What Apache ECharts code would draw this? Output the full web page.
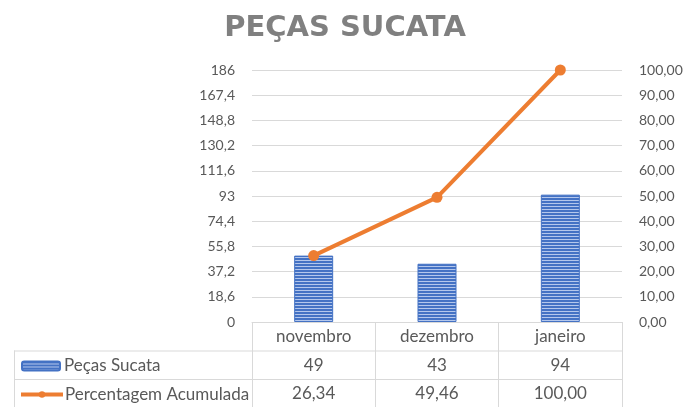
<!DOCTYPE html>
<html>
<head>
<meta charset="utf-8">
<script src="https://cdn.jsdelivr.net/npm/echarts@6/dist/echarts.min.js"></script>
<style>html,body{margin:0;padding:0;background:#fff;}#c{width:690px;height:407px;}</style>
</head>
<body>
<div id="c"></div>
<script>
var categories = ['novembro', 'dezembro', 'janeiro'];
var barValues = [49, 43, 94];
var lineValues = [26.34, 49.46, 100.00];
var barName = 'Peças Sucata';
var lineName = 'Percentagem Acumulada';
var titleText = 'PEÇAS SUCATA';
var leftMax = 186, leftStep = 18.6;
var rightMax = 100, rightStep = 10;

var GL = 252, GR = 622, GT = 70, GB = 322, W = 690, H = 407;
var ROW = 28.5;
var gray = '#595959', lineGray = '#d9d9d9';

function comma(v, d) { return v.toFixed(d).replace('.', ','); }

var pc = document.createElement('canvas');
pc.width = 4; pc.height = 3;
var px = pc.getContext('2d');
px.fillStyle = '#4472c4'; px.fillRect(0, 0, 4, 3);
px.fillStyle = '#b4c7ec'; px.fillRect(0, 2, 4, 1);

var chart = echarts.init(document.getElementById('c'), null, {renderer: 'canvas'});
var font = 'Lato';
var TF = 17;
chart.setOption({
  animation: false,
  backgroundColor: '#fff',
  title: {
    text: titleText, left: 'center', top: 9,
    textStyle: {fontFamily: 'DejaVu Sans', fontSize: 29, fontWeight: 'bold', color: '#808080'}
  },
  legend: [
    {left: 21, top: GB + ROW + 7, padding: 0, itemWidth: 38, itemHeight: 9,
     textStyle: {fontFamily: font, fontSize: TF, color: gray, padding: [0, 0, 0, -1]}, data: [barName]},
    {left: 19, top: GB + 2 * ROW + 7, padding: 0, itemWidth: 42, itemHeight: 8,
     textStyle: {fontFamily: font, fontSize: TF, color: gray, padding: [0, 0, 0, -3]},
     lineStyle: {width: 4}, data: [lineName]}
  ],
  grid: {left: GL, right: W - GR, top: GT, bottom: H - GB, containLabel: false},
  xAxis: [
    {type: 'category', data: categories, position: 'bottom',
     axisLine: {lineStyle: {color: lineGray}}, axisTick: {show: true, length: H - GB, lineStyle: {color: lineGray}},
     axisLabel: {color: gray, fontFamily: font, fontSize: TF, margin: 6}},
    {type: 'category', data: categories, position: 'bottom', offset: ROW + 0.5,
     axisLine: {show: false}, axisTick: {show: false},
     axisLabel: {color: gray, fontFamily: font, fontSize: TF, margin: 6,
       formatter: function (v, i) { return String(barValues[i]); }}},
    {type: 'category', data: categories, position: 'bottom', offset: 2 * ROW + 0.5,
     axisLine: {show: false}, axisTick: {show: false},
     axisLabel: {color: gray, fontFamily: font, fontSize: TF, margin: 6,
       formatter: function (v, i) { return comma(lineValues[i], 2); }}}
  ],
  yAxis: [
    {type: 'value', min: 0, max: leftMax, interval: leftStep,
     axisLine: {show: false}, axisTick: {show: false},
     splitLine: {lineStyle: {color: lineGray}},
     axisLabel: {color: gray, fontFamily: font, fontSize: 14, margin: 17,
       formatter: function (v) { return String(Number(v.toFixed(1))).replace('.', ','); }}},
    {type: 'value', min: 0, max: rightMax, interval: rightStep, position: 'right',
     axisLine: {show: false}, axisTick: {show: false}, splitLine: {show: false},
     axisLabel: {color: gray, fontFamily: font, fontSize: 14, margin: 17,
       formatter: function (v) { return comma(v, 2); }}}
  ],
  series: [
    {name: barName, type: 'bar', data: barValues, barWidth: 39, xAxisIndex: 0, yAxisIndex: 0,
     itemStyle: {color: {image: pc, repeat: 'repeat'}, borderColor: '#4472c4', borderWidth: 1}},
    {name: lineName, type: 'line', data: lineValues, xAxisIndex: 0, yAxisIndex: 1,
     symbol: 'circle', symbolSize: 11,
     lineStyle: {color: '#ed7d31', width: 4}, itemStyle: {color: '#ed7d31'}}
  ],
  graphic: [
    {type: 'line', shape: {x1: 14, y1: GB + ROW + 0.5, x2: GR, y2: GB + ROW + 0.5}, style: {stroke: lineGray, lineWidth: 1}},
    {type: 'line', shape: {x1: 14, y1: GB + 2 * ROW + 0.5, x2: GR, y2: GB + 2 * ROW + 0.5}, style: {stroke: lineGray, lineWidth: 1}},
    {type: 'line', shape: {x1: 14.5, y1: GB + ROW, x2: 14.5, y2: H}, style: {stroke: lineGray, lineWidth: 1}}
  ]
});
</script>
</body>
</html>
